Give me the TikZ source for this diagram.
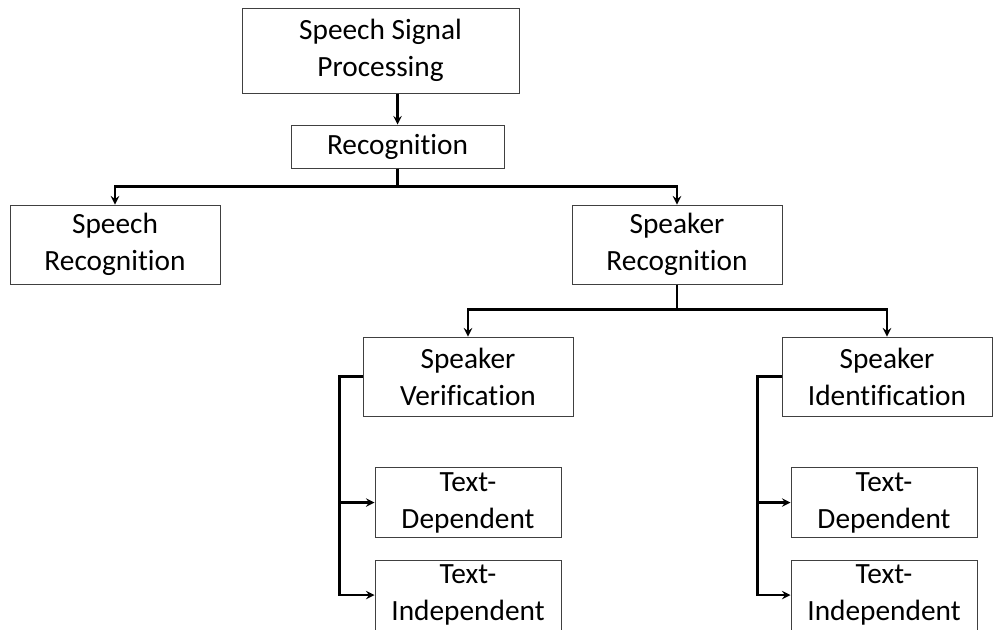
\documentclass[tikz,border=0pt]{standalone}
\usepackage{fontspec}
\setmainfont{Carlito}[Ligatures=NoCommon]
\usepackage{tikz}
\usetikzlibrary{shapes.geometric, arrows}
\tikzstyle{rootbox} = [rectangle,
minimum width=207.75pt,
minimum height=63.75pt,
text centered,
align=center,
inner sep=2pt,
draw=black!75,
line width=0.75pt]
\tikzstyle{slimbox} = [rectangle,
minimum width=159.75pt,
minimum height=32.25pt,
text centered,
align=center,
inner sep=2pt,
draw=black!75,
line width=0.75pt]
\tikzstyle{branch} = [rectangle,
minimum width=157.5pt,
minimum height=59.25pt,
text centered,
align=center,
inner sep=2pt,
draw=black!75,
line width=0.75pt]
\tikzstyle{leaf} = [rectangle,
minimum width=139.5pt,
minimum height=52.5pt,
text centered,
align=center,
inner sep=2pt,
draw=black!75,
line width=0.75pt]
\tikzstyle{arrow} = [line width=1.8pt,->,>=stealth]

\begin{document}
\begin{tikzpicture}[node distance=72pt, font=\fontsize{22}{27.75}\selectfont]

    \useasboundingbox (0,0) rectangle (744.75pt,-472.5pt);

    \node (ssp) [rootbox] at (285.4pt,-37.9pt) {Speech Signal\\Processing};
    \node (recog) [slimbox, below of=ssp, xshift=12.75pt] {Recognition};

    \node (speech) [branch, left of=recog, xshift=-139.9pt, yshift=-73.5pt] {Speech\\Recognition};
    \node (speaker) [branch, right of=recog, xshift=137.6pt, yshift=-73.5pt] {Speaker\\Recognition};

    \node (verif) [branch, below of=speaker, xshift=-156.75pt, yshift=-27pt] {Speaker\\Verification};
    \node (ident) [branch, below of=speaker, xshift=157.5pt, yshift=-27pt] {Speaker\\Identification};

    \node (vdep) [leaf, below of=verif, yshift=-22.5pt] {Text-\\Dependent};
    \node (vindep) [leaf, below of=vdep, yshift=2.6pt] {Text-\\Independent};

    \node (idep) [leaf, below of=ident, xshift=-2.25pt, yshift=-22.5pt] {Text-\\Dependent};
    \node (iindep) [leaf, below of=idep, yshift=2.6pt] {Text-\\Independent};

    \draw [arrow] (ssp.south -| recog.north) -- (recog.north);
    \draw [arrow] (recog.south) -- ++(0,-13.5pt) -| (speech.north);
    \draw [arrow] (recog.south) -- ++(0,-13.5pt) -| (speaker.north);
    \draw [arrow] (speaker.south) -- ++(0,-18.75pt) -| (verif.north);
    \draw [arrow] (speaker.south) -- ++(0,-18.75pt) -| (ident.north);
    \draw [arrow] (verif.west) -- ++(-17.25pt,0) |- (vdep.west);
    \draw [arrow] (verif.west) -- ++(-17.25pt,0) |- (vindep.west);
    \draw [arrow] (ident.west) -- ++(-18pt,0) |- (idep.west);
    \draw [arrow] (ident.west) -- ++(-18pt,0) |- (iindep.west);

  \end{tikzpicture}
\end{document}
